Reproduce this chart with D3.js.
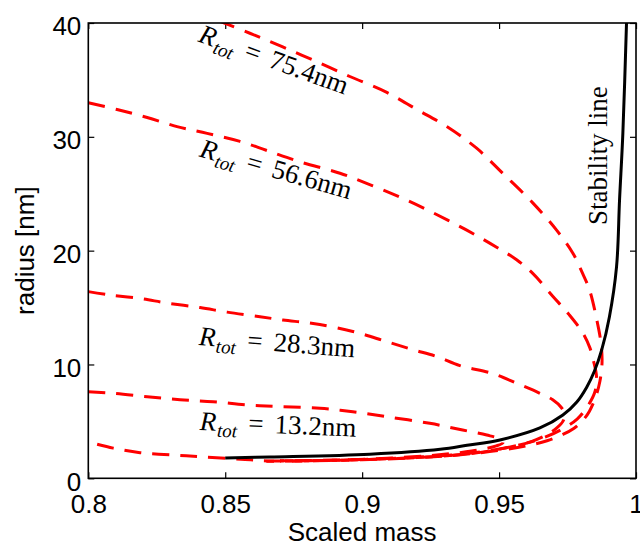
<!DOCTYPE html>
<html>
<head>
<meta charset="utf-8">
<script src="https://cdn.jsdelivr.net/npm/d3@7"></script>
<style>
  html, body { margin: 0; padding: 0; background: #fff; }
  svg { display: block; }
</style>
</head>
<body>
<svg id="chart" width="640" height="546"></svg>
<script>
// Axis ticks
const massTicks = [0.8, 0.85, 0.9, 0.95, 1];
const radiusTicks = [0, 10, 20, 30, 40];

// Stability line: [scaled mass, radius in nm]
const stabilityLine = [
  [0.85, 1.78], [0.8664, 1.87], [0.9028, 2.12], [0.9285, 2.55], [0.9383, 2.9],
  [0.9503, 3.37], [0.9649, 4.42], [0.9733, 5.56], [0.9784, 6.7], [0.982, 8.0],
  [0.9848, 9.4], [0.9875, 11.3], [0.9903, 14.2], [0.9929, 18.6], [0.994, 24.5],
  [0.9952, 30.3], [0.9966, 40.5]
];

// Constant total radius curves: [scaled mass, radius in nm]
const rtot754 = [
  [0.8475, 40.2], [0.859, 39.1], [0.871, 37.9], [0.8834, 36.6], [0.8955, 35.3],
  [0.909, 33.9], [0.92, 32.4], [0.9309, 30.9], [0.9418, 29.0], [0.9513, 26.8],
  [0.9623, 24.2], [0.971, 21.8], [0.9769, 19.8], [0.9805, 18.0], [0.9831, 16.5],
  [0.9857, 13.9], [0.9872, 11.9], [0.9876, 10.2], [0.9868, 8.5], [0.9852, 7.1],
  [0.983, 5.9], [0.9803, 5.0], [0.9774, 4.4], [0.9733, 3.85], [0.9675, 3.3],
  [0.96, 2.85], [0.95, 2.45], [0.935, 2.05], [0.92, 1.82], [0.90, 1.64],
  [0.88, 1.53], [0.865, 1.5]
];
const rtot566 = [
  [0.8, 33.0], [0.8105, 32.4], [0.8215, 31.7], [0.8324, 30.9], [0.8434, 30.3],
  [0.8554, 29.6], [0.8652, 28.8], [0.8773, 27.8], [0.8919, 26.8], [0.9039, 25.7],
  [0.9138, 24.7], [0.9236, 23.6], [0.9382, 21.8], [0.9491, 20.3], [0.9564, 19.2],
  [0.9623, 18.0], [0.9696, 16.0], [0.9755, 14.4], [0.9805, 12.8], [0.9831, 11.5],
  [0.9845, 10.3], [0.9856, 8.9], [0.985, 7.6], [0.9825, 6.4], [0.9785, 5.2],
  [0.9725, 4.25], [0.965, 3.45], [0.955, 2.8], [0.94, 2.22], [0.92, 1.86],
  [0.90, 1.66], [0.88, 1.56], [0.87, 1.53]
];
const rtot283 = [
  [0.8, 16.4], [0.808, 16.1], [0.8189, 15.8], [0.8287, 15.4], [0.8408, 15.0],
  [0.8507, 14.6], [0.8627, 14.2], [0.8711, 13.9], [0.8821, 13.6], [0.8966, 12.9],
  [0.909, 12.0], [0.9185, 11.3], [0.9272, 10.7], [0.9357, 9.9], [0.9477, 9.2],
  [0.9564, 8.35], [0.9649, 7.47], [0.9696, 6.9], [0.9728, 6.2], [0.974, 5.6],
  [0.9733, 5.0], [0.9712, 4.45], [0.968, 3.9], [0.962, 3.25], [0.952, 2.65],
  [0.94, 2.18], [0.92, 1.82], [0.90, 1.63], [0.88, 1.55], [0.87, 1.54]
];
const rtot132 = [
  [0.8, 7.6], [0.8091, 7.47], [0.8215, 7.17], [0.8335, 6.9], [0.8456, 6.73],
  [0.858, 6.45], [0.87, 6.3], [0.8846, 6.15], [0.8966, 5.85], [0.909, 5.41],
  [0.9247, 4.83], [0.9367, 4.24], [0.9455, 3.8], [0.9503, 3.45], [0.9515, 3.15],
  [0.949, 2.85], [0.94, 2.4], [0.925, 2.0], [0.905, 1.72], [0.885, 1.56],
  [0.8655, 1.53], [0.8557, 1.68], [0.842, 1.87], [0.831, 2.05], [0.8189, 2.25],
  [0.8091, 2.65], [0.8, 3.2]
];

const curves = [rtot754, rtot566, rtot283, rtot132];

// Curve labels: total radius value, anchor (mass, radius) and baseline angle
const labelValues = ["75.4", "56.6", "28.3", "13.2"];
const labelAnchors = [[0.8398, 38.4], [0.8402, 28.3], [0.8402, 11.7], [0.8406, 4.25]];
const labelAngles = [20, 16, 4.5, 2.5];

const svg = d3.select("#chart");
const margin = { left: 88.3, right: 640 - 636, top: 23, bottom: 546 - 478.3 };
const W = 640, H = 546;

const x = d3.scaleLinear().domain([0.8, 1]).range([margin.left, W - margin.right]);
const y = d3.scaleLinear().domain([0, 40]).range([H - margin.bottom, margin.top]);

svg.append("defs").append("clipPath").attr("id", "plotClip")
  .append("rect")
  .attr("x", x(0.8)).attr("y", y(40))
  .attr("width", x(1) - x(0.8)).attr("height", y(0) - y(40));

const tickFont = "'Liberation Sans', Arial, Helvetica, sans-serif";
const serifFont = "'Liberation Serif', 'Times New Roman', 'DejaVu Serif', serif";

// Axes with inward ticks on all four sides
const axisBottom = d3.axisBottom(x).tickValues(massTicks).tickSizeInner(-6).tickSizeOuter(0)
  .tickFormat(d => d3.format("")(d));
const axisTop = d3.axisTop(x).tickValues(massTicks).tickSizeInner(-6).tickSizeOuter(0).tickFormat("");
const axisLeft = d3.axisLeft(y).tickValues(radiusTicks).tickSizeInner(-6).tickSizeOuter(0);
const axisRight = d3.axisRight(y).tickValues(radiusTicks).tickSizeInner(-6).tickSizeOuter(0).tickFormat("");

function styleAxis(g) {
  g.select(".domain").remove();
  g.selectAll(".tick line").attr("stroke", "#000").attr("stroke-width", 1.2);
  g.selectAll(".tick text").attr("fill", "#000")
    .style("font-family", tickFont).style("font-size", "26px");
}

svg.append("g").attr("transform", `translate(0,${y(0)})`).call(axisBottom).call(styleAxis)
  .selectAll(".tick text").attr("y", 0).attr("dy", 0)
  .attr("transform", "translate(0,35)");
svg.append("g").attr("transform", `translate(0,${y(40)})`).call(axisTop).call(styleAxis);
svg.append("g").attr("transform", `translate(${x(0.8)},0)`).call(axisLeft).call(styleAxis)
  .selectAll(".tick text").attr("x", -7).attr("dy", "0.38em")
  .attr("transform", "translate(0,2)");
svg.append("g").attr("transform", `translate(${x(1)},0)`).call(axisRight).call(styleAxis);

const plot = svg.append("g").attr("clip-path", "url(#plotClip)");

const line = d3.line()
  .x(d => x(d[0]))
  .y(d => y(d[1]))
  .curve(d3.curveCatmullRom.alpha(0.5));

plot.selectAll("path.rtot")
  .data(curves)
  .join("path")
  .attr("class", "rtot")
  .attr("d", line)
  .attr("fill", "none")
  .attr("stroke", "#ff0000")
  .attr("stroke-width", 3)
  .attr("stroke-dasharray", "17 11");

plot.append("path")
  .datum(stabilityLine)
  .attr("d", line)
  .attr("fill", "none")
  .attr("stroke", "#000")
  .attr("stroke-width", 3);

// Frame
svg.append("rect")
  .attr("x", x(0.8)).attr("y", y(40))
  .attr("width", x(1) - x(0.8)).attr("height", y(0) - y(40))
  .attr("fill", "none").attr("stroke", "#000").attr("stroke-width", 1.6);

// Curve labels
labelValues.forEach((v, i) => {
  const [mx, ry] = labelAnchors[i];
  const t = svg.append("text")
    .attr("transform", `translate(${x(mx)},${y(ry)}) rotate(${labelAngles[i]})`)
    .style("font-family", serifFont)
    .style("font-size", "27px")
    .attr("fill", "#000");
  t.append("tspan").style("font-style", "italic").text("R");
  t.append("tspan").style("font-style", "italic").style("font-size", "19px")
    .attr("dy", 6).attr("dx", 1).text("tot");
  t.append("tspan").attr("dy", -6).attr("dx", 11).text("=");
  t.append("tspan").attr("dx", 11).text(v + "nm");
});

// Stability line label
svg.append("text")
  .attr("transform", `translate(607,225) rotate(-90)`)
  .style("font-family", serifFont)
  .style("font-size", "27px")
  .attr("fill", "#000")
  .text("Stability line");

// Axis titles
svg.append("text")
  .attr("x", (x(0.8) + x(1)) / 2).attr("y", 541)
  .attr("text-anchor", "middle")
  .style("font-family", tickFont).style("font-size", "26px")
  .text("Scaled mass");

svg.append("text")
  .attr("transform", `translate(34,${(y(0) + y(40)) / 2}) rotate(-90)`)
  .attr("text-anchor", "middle")
  .style("font-family", tickFont).style("font-size", "26px")
  .text("radius [nm]");
</script>
</body>
</html>
